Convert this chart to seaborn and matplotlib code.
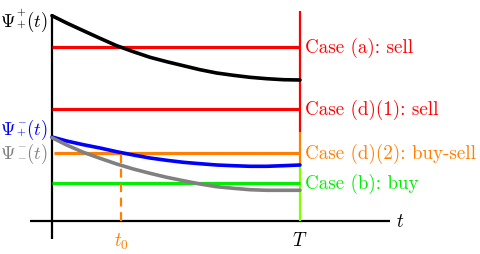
import matplotlib
matplotlib.use("Agg")
import matplotlib.pyplot as plt
import seaborn as sns
import pandas as pd

# ---- data ----
t_grid = [0.0, 0.0591, 0.1263, 0.1935, 0.2608, 0.3280, 0.3952, 0.4624,
          0.5296, 0.5968, 0.6640, 0.7312, 0.7984, 0.8656, 0.9328, 1.0]
psi_pp = [2.053, 1.98, 1.903, 1.827, 1.753, 1.693, 1.637, 1.593,
          1.553, 1.513, 1.48, 1.457, 1.437, 1.423, 1.413, 1.41]
psi_pm = [0.84, 0.80, 0.763, 0.73, 0.693, 0.66, 0.63, 0.607,
          0.587, 0.573, 0.56, 0.553, 0.547, 0.547, 0.553, 0.56]
psi_mm = [0.833, 0.76, 0.687, 0.627, 0.57, 0.52, 0.477, 0.437,
          0.403, 0.37, 0.343, 0.327, 0.313, 0.307, 0.307, 0.307]

T = 1.0
t0 = 0.28
case_names = ["Case (a): sell", "Case (d)(1): sell", "Case (d)(2): buy-sell", "Case (b): buy"]
case_levels = [1.74, 1.12, 0.677, 0.377]
case_colors = ["#ff0000", "#ff0000", "#ff8000", "#00ee00"]

psi_sups = ["+", "-", "-"]
psi_subs = ["+", "+", "-"]
psi_colors = ["black", "#0000ff", "#808080"]
psi_baselines_px = [27, 135, 159]

sns.set_theme(style="white")
plt.rcParams["mathtext.fontset"] = "cm"

W, H = 480, 255
fig = plt.figure(figsize=(4.8, 2.55), dpi=100)
ax = fig.add_axes([0, 0, 1, 1])

# axes
ax.plot([-0.089, 1.363], [0, 0], color="black", lw=1.6, solid_capstyle="butt")
ax.plot([0, 0], [-0.18, 2.07], color="black", lw=1.6, solid_capstyle="butt")

# T line segments
ax.plot([T, T], [0.89, 2.10], color="#ff0000", lw=1.6, solid_capstyle="butt")
ax.plot([T, T], [0.55, 0.89], color="#ff8000", lw=1.6, solid_capstyle="butt")
ax.plot([T, T], [0.0, 0.55], color="#7fff00", lw=1.6, solid_capstyle="butt")

# horizontal case lines
for lvl, col in zip(case_levels, case_colors):
    start = 0.008 if col == "#ff8000" else 0.0
    ax.plot([start, T], [lvl, lvl], color=col, lw=2.3, solid_capstyle="butt")

# curves
df = pd.DataFrame({"t": t_grid, "pp": psi_pp, "pm": psi_pm, "mm": psi_mm})
sns.lineplot(data=df, x="t", y="pp", ax=ax, color="black", lw=2.6, sort=False)
sns.lineplot(data=df, x="t", y="pm", ax=ax, color="#0000ff", lw=2.6, sort=False)
sns.lineplot(data=df, x="t", y="mm", ax=ax, color="#808080", lw=2.6, sort=False)
ax.set_xlim(-0.2097, 1.7258)
ax.set_ylim(-0.33, 2.22)
ax.axis("off")

# t0 dashed
ax.plot([t0, t0], [0, case_levels[2]], color="#ff8000", lw=1.6, ls=(0, (4, 2.5)))

# labels
fs = 13.7
for name, lvl, col in zip(case_names, case_levels, case_colors):
    ax.text(T + 0.02, lvl, name, color=col, fontsize=fs, family="cmr10",
            ha="left", va="center")


def fx(px):
    return px / W


def fy(py):
    return 1 - py / H


for sup, sub, col, base in zip(psi_sups, psi_subs, psi_colors, psi_baselines_px):
    fig.text(fx(16), fy(base), r"$\Psi$", color=col, fontsize=13.5, ha="right", va="baseline")
    sup_s = r"$+$" if sup == "+" else r"$-$"
    sub_s = r"$+$" if sub == "+" else r"$-$"
    fig.text(fx(21.5), fy(base - 14.5), sup_s, color=col, fontsize=8, ha="center", va="center")
    fig.text(fx(21.5), fy(base - 2.5), sub_s, color=col, fontsize=8, ha="center", va="center")
    fig.text(fx(26.5), fy(base), r"$(t)$", color=col, fontsize=13.5, ha="left", va="baseline")

ax.text(1.405, 0.0, r"$t$", color="black", fontsize=fs, ha="center", va="center")
ax.text(T, -0.19, r"$T$", color="black", fontsize=fs, ha="center", va="center")
ax.text(t0, -0.20, r"$t_0$", color="#ff8000", fontsize=fs, ha="center", va="center")

fig.savefig("out.png", dpi=100)
